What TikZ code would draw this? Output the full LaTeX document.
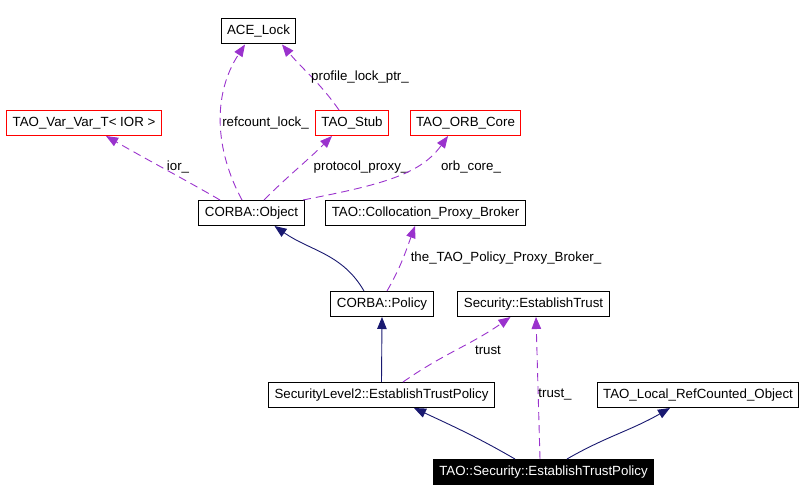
\documentclass[tikz,border=0pt]{standalone}
\usepackage{fontspec}
\setmainfont{Liberation Sans}
\definecolor{inhcol}{HTML}{191970}
\definecolor{usecol}{HTML}{9A32CD}
\tikzset{cls/.style = {draw, minimum height=25, inner xsep=6, inner ysep=0, line width=1, font=\fontsize{13.3}{16}\selectfont}}
\tikzset{redcls/.style = {cls, draw=red}}
\tikzset{selfcls/.style = {cls, fill=black, text=white}}
\tikzset{inh/.style = {draw=inhcol, line width=0.9, -{Triangle[length=12,width=9.5]}}}
\tikzset{use/.style = {draw=usecol, line width=0.9, dash pattern=on 8pt off 5pt, -{Triangle[length=12,width=9.5]}}}
\tikzset{lbl/.style = {inner sep=0, font=\fontsize{13.3}{16}\selectfont}}
\usetikzlibrary{arrows.meta}

\begin{document}
\begin{tikzpicture}[x=1pt, y=-1pt]
    \useasboundingbox (0,0) rectangle (806,502);

    % classes
    \node [cls] (acelock) at (258.5, 31.5) {ACE\_Lock};
    \node [redcls] (varvar) at (84, 123) {TAO\_Var\_Var\_T< IOR >};
    \node [redcls] (stub) at (352, 123) {TAO\_Stub};
    \node [redcls] (orbcore) at (465.5, 123) {TAO\_ORB\_Core};
    \node [cls] (object) at (251.5, 213) {CORBA::Object};
    \node [cls] (broker) at (425.5, 213) {TAO::Collocation\_Proxy\_Broker};
    \node [cls] (policy) at (382, 304) {CORBA::Policy};
    \node [cls] (trust) at (533.5, 304) {Security::EstablishTrust};
    \node [cls] (sltrust) at (381.5, 395) {SecurityLevel2::EstablishTrustPolicy};
    \node [cls] (localrc) at (698, 395) {TAO\_Local\_RefCounted\_Object};
    \node [selfcls] (sectrust) at (543.5, 472) {TAO::Security::EstablishTrustPolicy};

    % inheritance
    \draw [inh] ([xshift=-18]policy.north) to [out=120, in=-35] ([xshift=23]object.south);
    \draw [inh] (sltrust.north) -- (policy.south);
    \draw [inh] ([xshift=-28.5]sectrust.north) to [out=150, in=-25] ([xshift=32.5]sltrust.south);
    \draw [inh] ([xshift=23.5]sectrust.north) to [out=30, in=-150] ([xshift=-28]localrc.south);

    % members
    \draw [use] ([xshift=-9.5]object.north) .. controls (215,150) and (212,95) .. ([xshift=-13.5]acelock.south)
        node [lbl] (lrefcount) at (265.5,123) {refcount\_lock\_};
    \draw [use] ([xshift=-13]stub.north) to [out=125, in=-50] ([xshift=23.5]acelock.south)
        node [lbl] (lprofile) at (360,77) {profile\_lock\_ptr\_};
    \draw [use] ([xshift=-31.5]object.north) to [out=150, in=-30] ([xshift=22]varvar.south)
        node [lbl] (lior) at (178,167) {ior\_};
    \draw [use] ([xshift=12.5]object.north) to [out=45, in=-135] ([xshift=-20]stub.south)
        node [lbl] (lprotocol) at (361,167) {protocol\_proxy\_};
    \draw [use] ([xshift=51.5]object.north) .. controls (380,185) and (420,175) .. ([xshift=-17.5]orbcore.south)
        node [lbl] (lorbcore) at (471,167) {orb\_core\_};
    \draw [use] ([xshift=5]policy.north) to [out=60, in=-110] ([xshift=-10.5]broker.south)
        node [lbl] (lbroker) at (506,258) {the\_TAO\_Policy\_Proxy\_Broker\_};
    \draw [use] ([xshift=21.5]sltrust.north) to [out=35, in=-145] ([xshift=-23]trust.south)
        node [lbl] (ltrust) at (488,350) {trust};
    \draw [use] ([xshift=-3.5]sectrust.north) -- ([xshift=2.5]trust.south)
        node [lbl] (ltrustm) at (555,395) {trust\_};
\end{tikzpicture}
\end{document}
